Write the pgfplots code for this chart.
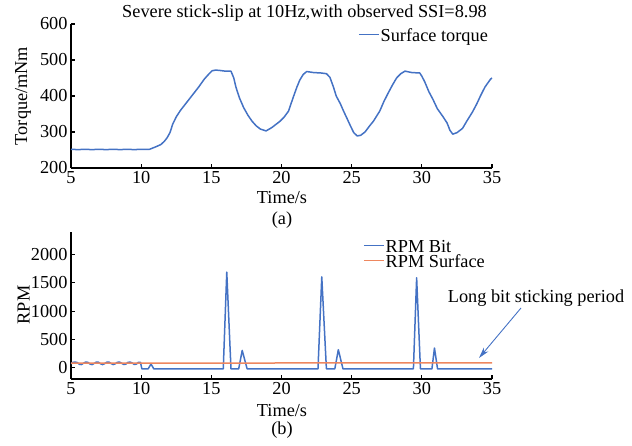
\documentclass[border=0pt]{standalone}
\usepackage{fontspec}
\setmainfont{Liberation Serif}
\usepackage{pgfplots}
\pgfplotsset{compat=1.18}
\usetikzlibrary{arrows.meta}
\definecolor{cblue}{RGB}{68,114,196}
\definecolor{corange}{RGB}{238,135,95}
\newcommand\ff{\fontsize{18.3}{20}\selectfont}
\pgfplotsset{
  myax/.style={
    scale only axis, width=421pt, anchor=south west,
    axis lines=left, axis line style={-, line width=1.6pt, black},
    xmin=5, xmax=35, xtick={5,10,...,35},
    tick align=inside, major tick length=3.5pt,
    tick style={black, line width=1.2pt},
    ticklabel style={font=\ff},
    /pgf/number format/assume math mode=true,
    /pgf/number format/1000 sep={},
    clip=false,
    legend cell align=left,
    legend image code/.code={\draw[#1, line width=1.5pt] (0pt,1pt) -- (20pt,1pt);},
    legend style={draw=none, fill=none, inner sep=0pt, font=\ff,
      nodes={inner sep=0pt, text height=12.3pt, text depth=0pt},
      row sep=3pt,
      /tikz/every odd column/.append style={column sep=1pt}},
  }
}
\begin{document}
\begin{tikzpicture}
\path[use as bounding box] (0,0) rectangle (632pt,446pt);
% ---------- top panel ----------
\begin{axis}[myax, at={(71pt,278pt)}, height=144pt,
  ymin=200, ymax=600, ytick={200,300,...,600},
  legend style={at={(axis cs:34.72,586)}, anchor=north east}]
\addplot[cblue, line width=1.5pt, line join=round] coordinates {
(5,252)(5.5,251)(6,252)(6.5,251)(7,252)(7.5,251)(8,252)(8.5,251)(9,252)(9.5,251)(10,252)(10.6,252)
(11.05,259)(11.4,265)(11.65,274)(11.85,284)(12.05,298)(12.25,322)(12.5,342)(12.8,360)(13.2,380)(13.7,405)(14.1,425)(14.5,447)(14.8,460)(15.05,470)
(15.3,472)(15.6,471)(16.0,469)(16.4,469)(16.6,450)(16.75,425)(17.0,395)(17.3,368)(17.6,347)(17.9,330)(18.2,317)(18.5,308)(18.9,303)
(19.3,312)(19.9,330)(20.2,342)(20.5,358)(20.85,398)(21.1,425)(21.3,444)(21.55,460)(21.8,468)(22.3,465)(22.8,464)(23.2,462)
(23.45,452)(23.7,425)(23.9,400)(24.2,378)(24.4,360)(24.7,335)(24.9,318)(25.15,298)(25.4,289)(25.65,291)(25.95,300)(26.3,318)(26.55,330)(27.0,358)(27.3,385)(27.6,408)(27.9,430)
(28.2,450)(28.5,462)(28.8,469)(29.3,465)(29.85,464)(30.0,455)(30.2,440)(30.5,412)(30.8,390)(31.1,365)(31.5,343)(31.8,325)(32.0,305)(32.2,294)(32.5,298)(32.9,310)
(33.2,330)(33.6,355)(33.9,377)(34.2,402)(34.5,425)(34.9,447)(35,450)};
\addlegendentry{Surface torque}
\end{axis}
% ---------- bottom panel ----------
\begin{axis}[myax, at={(71pt,67pt)}, height=147pt,
  ymin=-200, ymax=2400, ytick={0,500,...,2000},
  legend style={at={(axis cs:34.5,2257)}, anchor=north east}]
\addplot[cblue, line width=1.5pt, line join=round] coordinates {
(5,70)(5.15,95)(5.3,100)(5.45,90)(5.6,60)(5.75,55)(5.9,80)(6.05,100)(6.2,95)(6.35,65)(6.5,55)
(6.65,75)(6.8,98)(6.95,98)(7.1,70)(7.25,55)(7.4,72)(7.55,97)(7.7,100)(7.85,75)(8.0,55)(8.15,68)
(8.3,95)(8.45,100)(8.6,80)(8.75,57)(8.9,62)(9.05,92)(9.2,100)(9.35,85)(9.5,58)(9.65,62)(9.8,95)(9.95,95)
(10.05,-20)(10.5,-20)(10.7,65)(10.9,-20)(15.85,-20)(16.1,1690)(16.4,-20)(16.95,-20)(17.2,305)
(17.55,-20)(22.6,-20)(22.87,1605)(23.2,-20)(23.8,-20)(24.05,318)(24.38,-20)(29.4,-20)
(29.63,1590)(29.9,-20)(30.72,-20)(30.9,348)(31.12,-20)(35,-20)};
\addlegendentry{RPM Bit}
\addplot[corange, line width=1.5pt] coordinates {
(5,80)(10,82)(15,82)(20,83)(25,84)(30,84)(35,85)};
\addlegendentry{RPM Surface}
\end{axis}
% ---------- texts ----------
\node[font=\ff, anchor=base] at (304.5pt,428pt) {Severe stick-slip at 10Hz,with observed SSI=8.98};
\node[font=\ff, anchor=base] at (282pt,242pt) {Time/s};
\node[font=\ff, anchor=base] at (282pt,221pt) {(a)};
\node[font=\ff, anchor=base] at (282pt,29pt) {Time/s};
\node[font=\ff, anchor=base] at (282pt,11.3pt) {(b)};
\node[font=\ff, anchor=base, rotate=90] at (27.2pt,350pt) {Torque/mNm};
\node[font=\ff, anchor=base, rotate=90] at (29.6pt,141pt) {RPM};
\node[font=\ff, anchor=base] at (536pt,143pt) {Long bit sticking period};
\draw[cblue, line width=0.9pt, -{Stealth[length=11pt,width=6pt]}] (521pt,138pt) -- (479pt,88pt);
\end{tikzpicture}
\end{document}
